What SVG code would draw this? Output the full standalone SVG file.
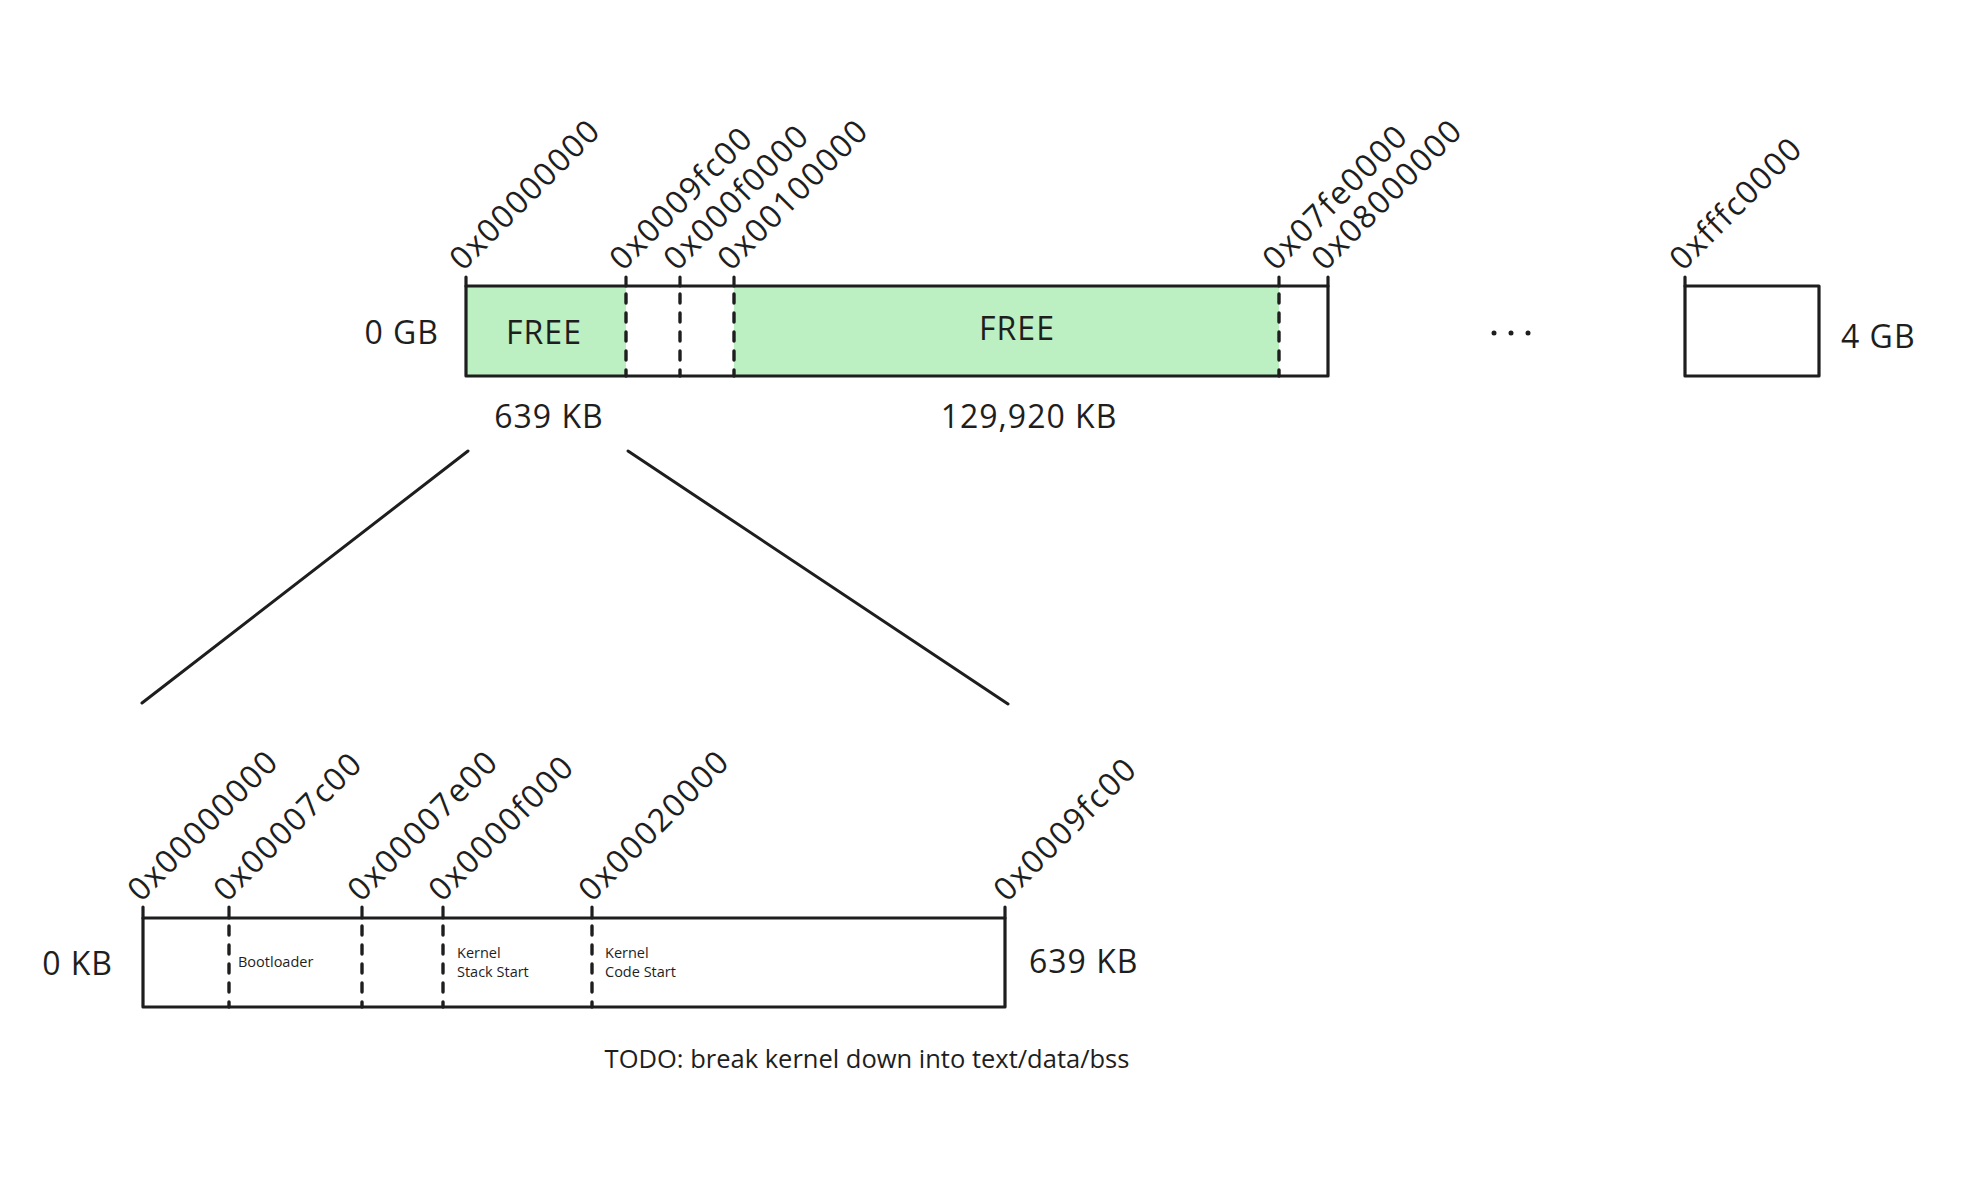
<svg xmlns="http://www.w3.org/2000/svg" width="1974" height="1184" viewBox="0 0 1974 1184">
<style>
  .t { font-family: "Open Sans", "Noto Sans", sans-serif; fill: #1e1e1e; font-weight: 500; }
  .big { font-size: 32px; letter-spacing: 1px; }
  .addr { font-size: 32px; letter-spacing: 1.6px; }
  .small { font-size: 14.5px; }
  .todo { font-size: 25.5px; }
  .box { fill: none; stroke: #1e1e1e; stroke-width: 3.2; stroke-linejoin: round; }
  .tick { stroke: #1e1e1e; stroke-width: 3.2; stroke-linecap: round; }
  .dash { stroke: #1e1e1e; stroke-width: 3.4; stroke-dasharray: 9 10; stroke-linecap: round; }
  .green { fill: #bcefc1; }
  .conn { stroke: #1e1e1e; stroke-width: 3; stroke-linecap: round; fill: none; }
</style>
<rect width="1974" height="1184" fill="#ffffff"/>

<g id="top-bar">
  <rect class="green" x="466" y="286" width="160" height="90"/>
  <rect class="green" x="734" y="286" width="545" height="90"/>
  <rect class="box" x="466" y="286" width="862" height="90"/>
  <line class="tick" x1="466" y1="277" x2="466" y2="286"/>
  <line class="tick" x1="1328" y1="277" x2="1328" y2="286"/>
  <line class="tick" x1="626" y1="277" x2="626" y2="286"/>
  <line class="tick" x1="680" y1="277" x2="680" y2="286"/>
  <line class="tick" x1="734" y1="277" x2="734" y2="286"/>
  <line class="tick" x1="1279" y1="277" x2="1279" y2="286"/>
  <line class="dash" x1="626" y1="294" x2="626" y2="376"/>
  <line class="dash" x1="680" y1="294" x2="680" y2="376"/>
  <line class="dash" x1="734" y1="294" x2="734" y2="376"/>
  <line class="dash" x1="1279" y1="294" x2="1279" y2="376"/>
  <text class="t big" x="544" y="344" text-anchor="middle">FREE</text>
  <text class="t big" x="1017" y="340" text-anchor="middle">FREE</text>
  <text class="t big" x="439" y="344" text-anchor="end">0 GB</text>
  <text class="t big" x="549" y="428" text-anchor="middle">639 KB</text>
  <text class="t big" x="1029" y="428" text-anchor="middle">129,920 KB</text>
  <text class="t addr" transform="translate(463 272) rotate(-45)">0x00000000</text>
  <text class="t addr" transform="translate(623 272) rotate(-45)">0x0009fc00</text>
  <text class="t addr" transform="translate(677 272) rotate(-45)">0x000f0000</text>
  <text class="t addr" transform="translate(731 272) rotate(-45)">0x00100000</text>
  <text class="t addr" transform="translate(1276 272) rotate(-45)">0x07fe0000</text>
  <text class="t addr" transform="translate(1325 272) rotate(-45)">0x08000000</text>
</g>

<g id="ellipsis">
  <circle cx="1494" cy="333" r="2.5" fill="#1e1e1e"/>
  <circle cx="1511" cy="333" r="2.5" fill="#1e1e1e"/>
  <circle cx="1528" cy="333" r="2.5" fill="#1e1e1e"/>
</g>

<g id="top-end-box">
  <rect class="box" x="1685" y="286" width="134" height="90"/>
  <line class="tick" x1="1685" y1="277" x2="1685" y2="286"/>
  <text class="t addr" transform="translate(1683 272) rotate(-45)">0xfffc0000</text>
  <text class="t big" x="1841" y="348">4 GB</text>
</g>

<g id="connectors">
  <line class="conn" x1="468" y1="451" x2="142" y2="703"/>
  <line class="conn" x1="628" y1="451" x2="1008" y2="704"/>
</g>

<g id="bottom-bar">
  <rect class="box" x="143" y="918" width="862" height="89"/>
  <line class="tick" x1="143" y1="907" x2="143" y2="918"/>
  <line class="tick" x1="1005" y1="907" x2="1005" y2="918"/>
  <line class="tick" x1="229" y1="907" x2="229" y2="918"/>
  <line class="tick" x1="362" y1="907" x2="362" y2="918"/>
  <line class="tick" x1="443" y1="907" x2="443" y2="918"/>
  <line class="tick" x1="592" y1="907" x2="592" y2="918"/>
  <line class="dash" x1="229" y1="926" x2="229" y2="1007"/>
  <line class="dash" x1="362" y1="926" x2="362" y2="1007"/>
  <line class="dash" x1="443" y1="926" x2="443" y2="1007"/>
  <line class="dash" x1="592" y1="926" x2="592" y2="1007"/>
  <text class="t big" x="113" y="975" text-anchor="end">0 KB</text>
  <text class="t big" x="1029" y="973">639 KB</text>
  <text class="t small" x="238" y="967">Bootloader</text>
  <text class="t small" x="457" y="958">Kernel</text>
  <text class="t small" x="457" y="977">Stack Start</text>
  <text class="t small" x="605" y="958">Kernel</text>
  <text class="t small" x="605" y="977">Code Start</text>
  <text class="t addr" transform="translate(141 903) rotate(-45)">0x00000000</text>
  <text class="t addr" transform="translate(227 903) rotate(-45)">0x00007c00</text>
  <text class="t addr" transform="translate(361 903) rotate(-45)">0x00007e00</text>
  <text class="t addr" transform="translate(442 903) rotate(-45)">0x0000f000</text>
  <text class="t addr" transform="translate(592 903) rotate(-45)">0x00020000</text>
  <text class="t addr" transform="translate(1007 903) rotate(-45)">0x0009fc00</text>
</g>

<g id="todo-note">
  <text class="t todo" x="867" y="1068" text-anchor="middle">TODO: break kernel down into text/data/bss</text>
</g>
</svg>
